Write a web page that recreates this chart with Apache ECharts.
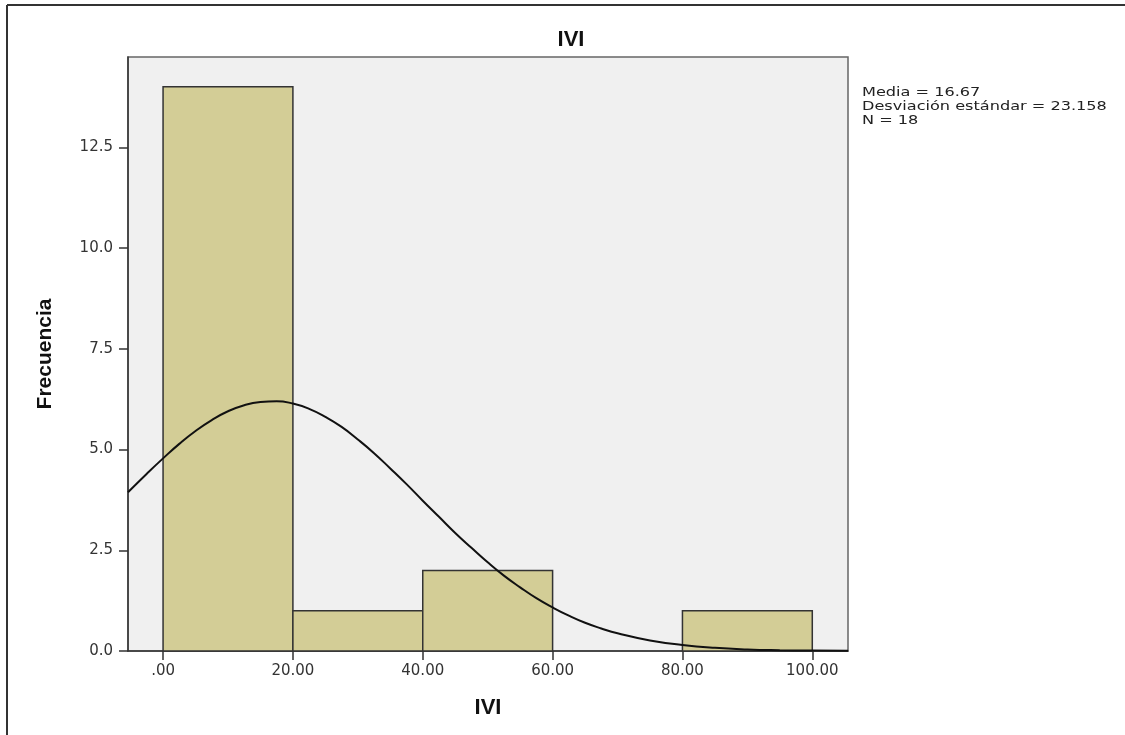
<!DOCTYPE html>
<html>
<head>
<meta charset="utf-8">
<script src="https://cdn.jsdelivr.net/npm/echarts@6/dist/echarts.min.js"></script>
<style>
html,body{margin:0;padding:0;background:#fff;}
#main{width:1125px;height:735px;}
</style>
</head>
<body>
<div id="main"></div>
<script>
// histograma IVI
var binStart = [0, 20, 40, 60, 80];
var binEnd = [20, 40, 60, 80, 100];
var frecuencia = [14, 1, 2, 0, 1];
var xTicks = [0, 20, 40, 60, 80, 100];
var yTicks = [0, 2.5, 5, 7.5, 10, 12.5];
// curva normal
var curvaX = [-5.4, -2.5, 0, 2.5, 5, 7.5, 10, 12.5, 15, 17.5, 20, 22.5, 25, 27.5, 30, 32.5, 35, 37.5, 40, 42.5, 45, 47.5, 50, 52.5, 55, 57.5, 60, 62.5, 65, 67.5, 70, 75, 80, 85, 90, 95, 100, 105.5];
var curvaY = [3.94, 4.4, 4.78, 5.14, 5.46, 5.73, 5.95, 6.1, 6.18, 6.2, 6.14, 6.01, 5.81, 5.56, 5.25, 4.91, 4.53, 4.14, 3.73, 3.33, 2.93, 2.56, 2.2, 1.87, 1.58, 1.31, 1.08, 0.876, 0.7, 0.56, 0.44, 0.26, 0.15, 0.08, 0.04, 0.02, 0.01, 0.005];
var estadisticos = ['Media = 16.67', 'Desviación estándar = 23.158', 'N = 18'];

var barras = [];
for (var i = 0; i < binStart.length; i++) {
	barras.push([binStart[i], binEnd[i], frecuencia[i]]);
}
var curva = [];
for (var k = 0; k < curvaX.length; k++) {
	curva.push([curvaX[k], curvaY[k]]);
}

var myChart = echarts.init(document.getElementById('main'));
var option = {
	animation: false,
	backgroundColor: '#fff',
	title: {
		text: 'IVI',
		left: 566,
		textAlign: 'center',
		top: 24,
		textStyle: {fontFamily: 'Liberation Sans', fontWeight: 'bold', fontSize: 22, color: '#111'}
	},
	grid: {
		left: 128, top: 57, right: 277, bottom: 84,
		show: true, backgroundColor: '#f0f0f0', borderColor: '#666', borderWidth: 1.5
	},
	xAxis: {
		type: 'value',
		min: -5.4,
		max: 105.5,
		name: 'IVI',
		nameLocation: 'middle',
		nameGap: 46,
		nameTextStyle: {fontFamily: 'Liberation Sans', fontWeight: 'bold', fontSize: 22, color: '#111'},
		splitLine: {show: false},
		axisLine: {show: true, onZero: false, lineStyle: {color: '#333', width: 1.5}},
		axisTick: {show: true, length: 9, customValues: xTicks, lineStyle: {color: '#333', width: 1.5}},
		axisLabel: {
			customValues: xTicks,
			margin: 13,
			fontFamily: 'DejaVu Sans', fontSize: 15, color: '#333',
			formatter: function(v) {
				return v === 0 ? '.00' : v.toFixed(2);
			}
		}
	},
	yAxis: {
		type: 'value',
		min: 0,
		max: 14.74,
		name: 'Frecuencia',
		nameLocation: 'middle',
		nameGap: 72,
		nameTextStyle: {fontFamily: 'Liberation Sans', fontWeight: 'bold', fontSize: 21, color: '#111'},
		splitLine: {show: false},
		axisLine: {show: true, onZero: false, lineStyle: {color: '#333', width: 1.5}},
		axisTick: {show: true, length: 9, customValues: yTicks, lineStyle: {color: '#333', width: 1.5}},
		axisLabel: {
			customValues: yTicks,
			margin: 15,
			fontFamily: 'DejaVu Sans', fontSize: 15, color: '#333',
			formatter: function(v) {
				return v.toFixed(1);
			}
		}
	},
	series: [{
		type: 'custom',
		data: barras,
		encode: {x: [0, 1], y: 2},
		renderItem: function(params, api) {
			if (api.value(2) <= 0) return;
			var p0 = api.coord([api.value(0), api.value(2)]);
			var p1 = api.coord([api.value(1), 0]);
			return {
				type: 'rect',
				shape: {x: p0[0], y: p0[1], width: p1[0] - p0[0], height: p1[1] - p0[1]},
				style: {fill: '#d3cd96', stroke: '#333', lineWidth: 1.5}
			};
		}
	}, {
		type: 'line',
		data: curva,
		smooth: true,
		showSymbol: false,
		symbol: 'none',
		lineStyle: {color: '#111', width: 2}
	}],
	graphic: [{
		type: 'line',
		shape: {x1: 7, y1: 5, x2: 1125, y2: 5},
		style: {stroke: '#333', lineWidth: 2}
	}, {
		type: 'line',
		shape: {x1: 7, y1: 5, x2: 7, y2: 735},
		style: {stroke: '#333', lineWidth: 2}
	}, {
		type: 'text',
		x: 862,
		y: 86,
		scaleX: 1.24,
		style: {
			text: estadisticos.join('\n'),
			fontFamily: 'DejaVu Sans', fontSize: 13, lineHeight: 14, fill: '#222'
		}
	}]
};
myChart.setOption(option);
</script>
</body>
</html>
